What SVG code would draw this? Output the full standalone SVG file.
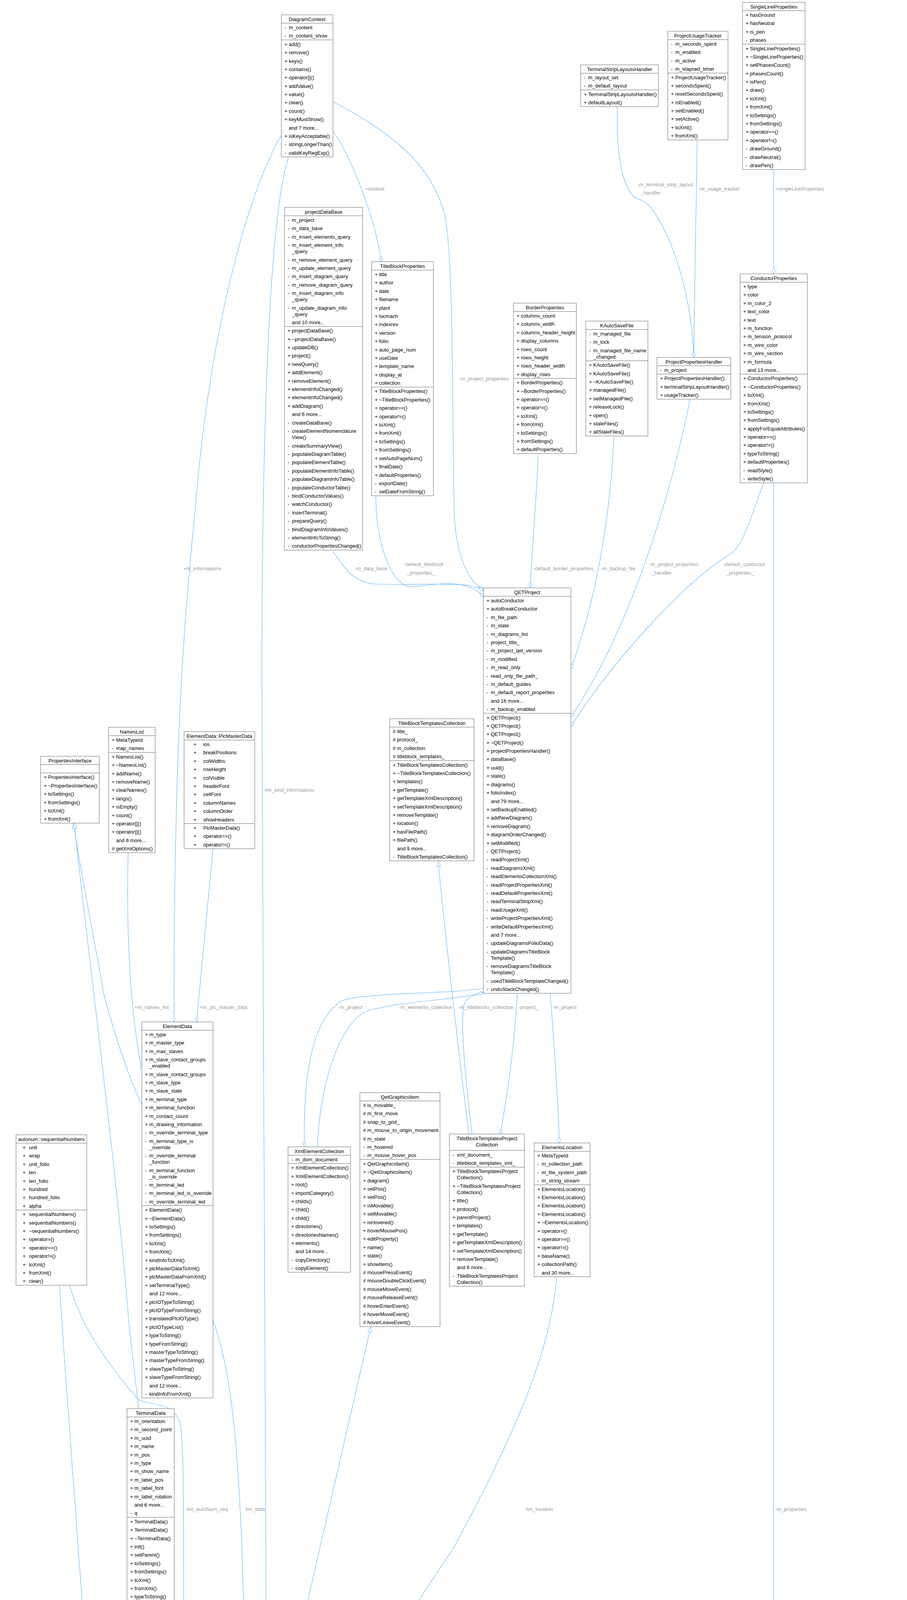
<svg xmlns="http://www.w3.org/2000/svg" width="2321" height="7256" viewBox="0 0 2321 7256">
<style>
.b{fill:#fff;stroke:#666;stroke-width:1}
.g{fill:#999;stroke:#666;stroke-width:1}
.s{fill:none;stroke:#666;stroke-width:1}
text{font-family:"Liberation Sans",Arial,sans-serif;font-size:13px;fill:#000}
.h{text-anchor:middle}
.l{fill:#9a9a9a}
.e{fill:none;stroke:#63b8ff;stroke-width:1.2}
</style>
<defs>
<marker id="d" markerWidth="16" markerHeight="10" refX="15" refY="5" orient="auto" markerUnits="userSpaceOnUse"><path d="M1,5 L8,1 L15,5 L8,9 Z" fill="#fff" stroke="#63b8ff"/></marker>
<marker id="t" markerWidth="16" markerHeight="12" refX="15" refY="6" orient="auto" markerUnits="userSpaceOnUse"><path d="M1,1 L15,6 L1,11 Z" fill="#fff" stroke="#63b8ff"/></marker>
</defs>
<rect width="2321" height="7256" fill="#fff"/>
<g id="connectors">
<path class="e" marker-end="url(#d)" d="M720,347 C650,460 540,800 500,1300 C470,1600 445,1900 445,2616"/>
<path class="e" marker-end="url(#d)" d="M738,404 C700,520 672,900 670,1700 L681,4147"/>
<path class="e" marker-end="url(#d)" d="M852,336 C900,400 960,560 976,670"/>
<path class="e" marker-end="url(#d)" d="M852,260 C1000,340 1110,420 1140,560 C1165,700 1155,1250 1165,1350 C1175,1450 1210,1495 1237,1509"/>
<path class="e" marker-end="url(#d)" d="M851,1411 C880,1450 900,1490 960,1495 C1100,1500 1200,1485 1237,1512"/>
<path class="e" marker-end="url(#d)" d="M962,1271 C960,1380 1000,1510 1060,1502 C1120,1495 1200,1480 1237,1529"/>
<path class="e" marker-end="url(#d)" d="M1377,1164 C1372,1300 1360,1420 1357,1505"/>
<path class="e" marker-end="url(#d)" d="M1571,1119 C1560,1350 1520,1550 1461,1712"/>
<path class="e" marker-end="url(#d)" d="M1766,1022 C1720,1250 1620,1600 1461,1835"/>
<path class="e" marker-end="url(#d)" d="M1954,1236 C1920,1330 1900,1400 1867,1420 C1760,1480 1560,1700 1461,1860"/>
<path class="e" marker-end="url(#d)" d="M1580,273 C1575,420 1600,505 1640,512 C1680,520 1770,700 1775,915"/>
<path class="e" marker-end="url(#d)" d="M1784,358 L1775,915"/>
<path class="e" marker-end="url(#d)" d="M1980,434 L1980,701"/>
<path class="e" marker-end="url(#d)" d="M1980,1236 L1980,5613 C1978,5900 1800,6100 1600,6200 C1200,6420 800,6560 426,6643"/>
<path class="e" marker-end="url(#d)" d="M2098,5750 C2090,5950 2000,6060 1850,6150 C1500,6350 900,6600 426,6654"/>
<path class="e" marker-end="url(#d)" d="M2174,5517 C2200,5530 2205,5570 2200,5620 C2195,5650 2185,5660 2174,5662"/>
<path class="e" marker-end="url(#d)" d="M545,3380 C590,3500 615,3700 624,4147"/>
<path class="e" marker-end="url(#d)" d="M178,3290 C195,3350 230,3440 355,3584 C400,3600 440,3590 460,3640 C470,3680 470,3800 470,4116 C485,4250 540,4360 576,4441"/>
<path class="e" marker-end="url(#d)" d="M152,3290 C200,4000 260,4700 274,5100 C285,5500 305,5800 309,6072"/>
<path class="e" marker-end="url(#t)" d="M363,2828 C320,2740 280,2600 266,2546 C240,2400 200,2200 189,2107"/>
<path class="e" marker-end="url(#t)" d="M355,3606 L331,3400 C300,3000 220,2400 190,2107"/>
<path class="e" marker-end="url(#d)" d="M328,2183 C322,2400 335,2600 363,2740"/>
<path class="e" marker-end="url(#d)" d="M545,2173 L503,2616"/>
<path class="e" marker-end="url(#d)" d="M1237,2530 C1150,2545 950,2540 880,2560 C800,2600 775,2750 779,2936"/>
<path class="e" marker-end="url(#d)" d="M812,2936 C820,2750 880,2600 950,2585 C1050,2560 1180,2560 1237,2540"/>
<path class="e" marker-end="url(#d)" d="M1208,2903 C1190,2750 1175,2600 1190,2565 C1200,2550 1220,2545 1237,2542"/>
<path class="e" marker-end="url(#t)" d="M1200,2903 C1180,2750 1140,2400 1121,2204"/>
<path class="e" marker-end="url(#d)" d="M1324,2543 C1315,2700 1295,2820 1280,2903"/>
<path class="e" marker-end="url(#d)" d="M1408,2543 C1420,2700 1430,2850 1431,2926"/>
<path class="e" marker-end="url(#d)" d="M1425,3268 C1410,3450 1330,3650 1160,3964 C1000,4200 850,4450 746,4540"/>
<path class="e" marker-end="url(#t)" d="M746,4278 L949,3396"/>
<path class="e" marker-end="url(#d)" d="M576,4999 L512,5260"/>
<path class="e" marker-end="url(#d)" d="M393,4120 C400,4500 420,5000 424,5206"/>
<path class="e" marker-end="url(#d)" d="M512,5519 C535,5530 540,5560 538,5590 C535,5630 525,5650 512,5657"/>
<path class="e" marker-end="url(#d)" d="M396,5976 L387,6072"/>
<path class="e" marker-end="url(#t)" d="M107,5345 L107,5077"/>
<path class="e" marker-end="url(#d)" d="M63,5837 C55,5980 70,6150 140,6290 C170,6360 200,6440 226,6470"/>
<path class="e" marker-end="url(#d)" d="M226,6303 C200,6200 160,6050 135,5837"/>
<text class="l" x="469" y="1460">+m_informations</text>
<text class="l" x="677" y="2027">#m_kind_informations</text>
<text class="l" x="934" y="488">+context</text>
<text class="l" x="1175" y="974">-m_project_properties</text>
<text class="l" x="908" y="1460">-m_data_base</text>
<text class="l" x="1034" y="1449">-default_titleblock</text>
<text class="l" x="1041" y="1471">_properties_</text>
<text class="l" x="1365" y="1460">-default_border_properties_</text>
<text class="l" x="1538" y="1460">-m_backup_file</text>
<text class="l" x="1661" y="1449">-m_project_properties</text>
<text class="l" x="1668" y="1471">_handler</text>
<text class="l" x="1851" y="1449">-default_conductor</text>
<text class="l" x="1858" y="1471">_properties_</text>
<text class="l" x="1631" y="477">-m_terminal_strip_layout</text>
<text class="l" x="1640" y="498">_handler</text>
<text class="l" x="1788" y="488">-m_usage_tracker</text>
<text class="l" x="1984" y="488">+singleLineProperties</text>
<text class="l" x="344" y="2583">+m_names_list</text>
<text class="l" x="511" y="2583">+m_plc_master_data</text>
<text class="l" x="866" y="2583">-m_project</text>
<text class="l" x="1021" y="2583">-m_elements_collection</text>
<text class="l" x="1173" y="2583">-m_titleblocks_collection</text>
<text class="l" x="1327" y="2583">-project_</text>
<text class="l" x="1414" y="2583">-m_project</text>
<text class="l" x="477" y="3868">#m_autoNum_seq</text>
<text class="l" x="627" y="3868">#m_data</text>
<text class="l" x="1345" y="3868">#m_location</text>
<text class="l" x="1984" y="3868">-m_properties</text>
<text class="l" x="426" y="4643">-d</text>
<text class="l" x="281" y="5173">-m_autoNum_seq</text>
<text class="l" x="541" y="5173">-parent_element_</text>
<text class="l" x="544" y="5595">-m_previous_terminal</text>
<text class="l" x="397" y="6017">+terminal1</text>
<text class="l" x="397" y="6039">+terminal2</text>
<text class="l" x="76" y="6028">-m_text_item</text>
<text class="l" x="172" y="6028">-parent_conductor_</text>
<text class="l" x="2202" y="5585">-next_segment</text>
<text class="l" x="2202" y="5606">-previous_segment</text>
<text class="l" x="2032" y="6019">-m_moved_segment</text>
<text class="l" x="2032" y="6040">-segments</text>
</g>

<g id="DiagramContext">
<rect class="b" x="720" y="38" width="132" height="363.8"/>
<path class="s" d="M720,59.4 h132 M720,102.2 h132"/>
<text class="h" x="786" y="53.5">DiagramContext</text>
<text y="53.5"><tspan x="728" dy="21.4">-</tspan><tspan x="739">m_content</tspan><tspan x="728" dy="21.4">-</tspan><tspan x="739">m_content_show</tspan><tspan x="728" dy="21.4">+</tspan><tspan x="739">add()</tspan><tspan x="728" dy="21.4">+</tspan><tspan x="739">remove()</tspan><tspan x="728" dy="21.4">+</tspan><tspan x="739">keys()</tspan><tspan x="728" dy="21.4">+</tspan><tspan x="739">contains()</tspan><tspan x="728" dy="21.4">+</tspan><tspan x="739">operator[]()</tspan><tspan x="728" dy="21.4">+</tspan><tspan x="739">addValue()</tspan><tspan x="728" dy="21.4">+</tspan><tspan x="739">value()</tspan><tspan x="728" dy="21.4">+</tspan><tspan x="739">clear()</tspan><tspan x="728" dy="21.4">+</tspan><tspan x="739">count()</tspan><tspan x="728" dy="21.4">+</tspan><tspan x="739">keyMustShow()</tspan><tspan x="739" dy="21.4">and 7 more...</tspan><tspan x="728" dy="21.4">+</tspan><tspan x="739">isKeyAcceptable()</tspan><tspan x="728" dy="21.4">-</tspan><tspan x="739">stringLongerThan()</tspan><tspan x="728" dy="21.4">-</tspan><tspan x="739">validKeyRegExp()</tspan></text>
</g>

<g id="projectDataBase">
<rect class="b" x="728" y="531" width="200" height="877.2"/>
<path class="s" d="M728,552.4 h200 M728,835.8 h200"/>
<text class="h" x="828" y="546.5">projectDataBase</text>
<text y="546.5"><tspan x="736" dy="21.4">-</tspan><tspan x="747">m_project</tspan><tspan x="736" dy="21.4">-</tspan><tspan x="747">m_data_base</tspan><tspan x="736" dy="21.4">-</tspan><tspan x="747">m_insert_elements_query</tspan><tspan x="736" dy="21.4">-</tspan><tspan x="747">m_insert_element_info</tspan><tspan x="747" dy="16">_query</tspan><tspan x="736" dy="21.4">-</tspan><tspan x="747">m_remove_element_query</tspan><tspan x="736" dy="21.4">-</tspan><tspan x="747">m_update_element_query</tspan><tspan x="736" dy="21.4">-</tspan><tspan x="747">m_insert_diagram_query</tspan><tspan x="736" dy="21.4">-</tspan><tspan x="747">m_remove_diagram_query</tspan><tspan x="736" dy="21.4">-</tspan><tspan x="747">m_insert_diagram_info</tspan><tspan x="747" dy="16">_query</tspan><tspan x="736" dy="21.4">-</tspan><tspan x="747">m_update_diagram_info</tspan><tspan x="747" dy="16">_query</tspan><tspan x="747" dy="21.4">and 10 more...</tspan><tspan x="736" dy="21.4">+</tspan><tspan x="747">projectDataBase()</tspan><tspan x="736" dy="21.4">+</tspan><tspan x="747">~projectDataBase()</tspan><tspan x="736" dy="21.4">+</tspan><tspan x="747">updateDB()</tspan><tspan x="736" dy="21.4">+</tspan><tspan x="747">project()</tspan><tspan x="736" dy="21.4">+</tspan><tspan x="747">newQuery()</tspan><tspan x="736" dy="21.4">+</tspan><tspan x="747">addElement()</tspan><tspan x="736" dy="21.4">+</tspan><tspan x="747">removeElement()</tspan><tspan x="736" dy="21.4">+</tspan><tspan x="747">elementInfoChanged()</tspan><tspan x="736" dy="21.4">+</tspan><tspan x="747">elementInfoChanged()</tspan><tspan x="736" dy="21.4">+</tspan><tspan x="747">addDiagram()</tspan><tspan x="747" dy="21.4">and 6 more...</tspan><tspan x="736" dy="21.4">-</tspan><tspan x="747">createDataBase()</tspan><tspan x="736" dy="21.4">-</tspan><tspan x="747">createElementNomenclature</tspan><tspan x="747" dy="16">View()</tspan><tspan x="736" dy="21.4">-</tspan><tspan x="747">createSummaryView()</tspan><tspan x="736" dy="21.4">-</tspan><tspan x="747">populateDiagramTable()</tspan><tspan x="736" dy="21.4">-</tspan><tspan x="747">populateElementTable()</tspan><tspan x="736" dy="21.4">-</tspan><tspan x="747">populateElementInfoTable()</tspan><tspan x="736" dy="21.4">-</tspan><tspan x="747">populateDiagramInfoTable()</tspan><tspan x="736" dy="21.4">-</tspan><tspan x="747">populateConductorTable()</tspan><tspan x="736" dy="21.4">-</tspan><tspan x="747">bindConductorValues()</tspan><tspan x="736" dy="21.4">-</tspan><tspan x="747">watchConductor()</tspan><tspan x="736" dy="21.4">-</tspan><tspan x="747">insertTerminal()</tspan><tspan x="736" dy="21.4">-</tspan><tspan x="747">prepareQuery()</tspan><tspan x="736" dy="21.4">-</tspan><tspan x="747">bindDiagramInfoValues()</tspan><tspan x="736" dy="21.4">-</tspan><tspan x="747">elementInfoToString()</tspan><tspan x="736" dy="21.4">-</tspan><tspan x="747">conductorPropertiesChanged()</tspan></text>
</g>

<g id="TitleBlockProperties">
<rect class="b" x="951" y="670" width="158" height="599.2"/>
<path class="s" d="M951,691.4 h158 M951,991 h158"/>
<text class="h" x="1030" y="685.5">TitleBlockProperties</text>
<text y="685.5"><tspan x="959" dy="21.4">+</tspan><tspan x="970">title</tspan><tspan x="959" dy="21.4">+</tspan><tspan x="970">author</tspan><tspan x="959" dy="21.4">+</tspan><tspan x="970">date</tspan><tspan x="959" dy="21.4">+</tspan><tspan x="970">filename</tspan><tspan x="959" dy="21.4">+</tspan><tspan x="970">plant</tspan><tspan x="959" dy="21.4">+</tspan><tspan x="970">locmach</tspan><tspan x="959" dy="21.4">+</tspan><tspan x="970">indexrev</tspan><tspan x="959" dy="21.4">+</tspan><tspan x="970">version</tspan><tspan x="959" dy="21.4">+</tspan><tspan x="970">folio</tspan><tspan x="959" dy="21.4">+</tspan><tspan x="970">auto_page_num</tspan><tspan x="959" dy="21.4">+</tspan><tspan x="970">useDate</tspan><tspan x="959" dy="21.4">+</tspan><tspan x="970">template_name</tspan><tspan x="959" dy="21.4">+</tspan><tspan x="970">display_at</tspan><tspan x="959" dy="21.4">+</tspan><tspan x="970">collection</tspan><tspan x="959" dy="21.4">+</tspan><tspan x="970">TitleBlockProperties()</tspan><tspan x="959" dy="21.4">+</tspan><tspan x="970">~TitleBlockProperties()</tspan><tspan x="959" dy="21.4">+</tspan><tspan x="970">operator==()</tspan><tspan x="959" dy="21.4">+</tspan><tspan x="970">operator!=()</tspan><tspan x="959" dy="21.4">+</tspan><tspan x="970">toXml()</tspan><tspan x="959" dy="21.4">+</tspan><tspan x="970">fromXml()</tspan><tspan x="959" dy="21.4">+</tspan><tspan x="970">toSettings()</tspan><tspan x="959" dy="21.4">+</tspan><tspan x="970">fromSettings()</tspan><tspan x="959" dy="21.4">+</tspan><tspan x="970">setAutoPageNum()</tspan><tspan x="959" dy="21.4">+</tspan><tspan x="970">finalDate()</tspan><tspan x="959" dy="21.4">+</tspan><tspan x="970">defaultProperties()</tspan><tspan x="959" dy="21.4">-</tspan><tspan x="970">exportDate()</tspan><tspan x="959" dy="21.4">-</tspan><tspan x="970">setDateFromString()</tspan></text>
</g>

<g id="TerminalStripLayoutsHandler">
<rect class="b" x="1486" y="166" width="199" height="107"/>
<path class="s" d="M1486,187.4 h199 M1486,230.2 h199"/>
<text class="h" x="1585.5" y="181.5">TerminalStripLayoutsHandler</text>
<text y="181.5"><tspan x="1494" dy="21.4">-</tspan><tspan x="1505">m_layout_set</tspan><tspan x="1494" dy="21.4">-</tspan><tspan x="1505">m_default_layout</tspan><tspan x="1494" dy="21.4">+</tspan><tspan x="1505">TerminalStripLayoutsHandler()</tspan><tspan x="1494" dy="21.4">+</tspan><tspan x="1505">defaultLayout()</tspan></text>
</g>

<g id="ProjectUsageTracker">
<rect class="b" x="1709" y="80" width="154" height="278.2"/>
<path class="s" d="M1709,101.4 h154 M1709,187 h154"/>
<text class="h" x="1786" y="95.5">ProjectUsageTracker</text>
<text y="95.5"><tspan x="1717" dy="21.4">-</tspan><tspan x="1728">m_seconds_spent</tspan><tspan x="1717" dy="21.4">-</tspan><tspan x="1728">m_enabled</tspan><tspan x="1717" dy="21.4">-</tspan><tspan x="1728">m_active</tspan><tspan x="1717" dy="21.4">-</tspan><tspan x="1728">m_elapsed_timer</tspan><tspan x="1717" dy="21.4">+</tspan><tspan x="1728">ProjectUsageTracker()</tspan><tspan x="1717" dy="21.4">+</tspan><tspan x="1728">secondsSpent()</tspan><tspan x="1717" dy="21.4">+</tspan><tspan x="1728">resetSecondsSpent()</tspan><tspan x="1717" dy="21.4">+</tspan><tspan x="1728">isEnabled()</tspan><tspan x="1717" dy="21.4">+</tspan><tspan x="1728">setEnabled()</tspan><tspan x="1717" dy="21.4">+</tspan><tspan x="1728">setActive()</tspan><tspan x="1717" dy="21.4">+</tspan><tspan x="1728">toXml()</tspan><tspan x="1717" dy="21.4">+</tspan><tspan x="1728">fromXml()</tspan></text>
</g>

<g id="SingleLineProperties">
<rect class="b" x="1900" y="6" width="160" height="428"/>
<path class="s" d="M1900,27.4 h160 M1900,113 h160"/>
<text class="h" x="1980" y="21.5">SingleLineProperties</text>
<text y="21.5"><tspan x="1908" dy="21.4">+</tspan><tspan x="1919">hasGround</tspan><tspan x="1908" dy="21.4">+</tspan><tspan x="1919">hasNeutral</tspan><tspan x="1908" dy="21.4">+</tspan><tspan x="1919">is_pen</tspan><tspan x="1908" dy="21.4">-</tspan><tspan x="1919">phases</tspan><tspan x="1908" dy="21.4">+</tspan><tspan x="1919">SingleLineProperties()</tspan><tspan x="1908" dy="21.4">+</tspan><tspan x="1919">~SingleLineProperties()</tspan><tspan x="1908" dy="21.4">+</tspan><tspan x="1919">setPhasesCount()</tspan><tspan x="1908" dy="21.4">+</tspan><tspan x="1919">phasesCount()</tspan><tspan x="1908" dy="21.4">+</tspan><tspan x="1919">isPen()</tspan><tspan x="1908" dy="21.4">+</tspan><tspan x="1919">draw()</tspan><tspan x="1908" dy="21.4">+</tspan><tspan x="1919">toXml()</tspan><tspan x="1908" dy="21.4">+</tspan><tspan x="1919">fromXml()</tspan><tspan x="1908" dy="21.4">+</tspan><tspan x="1919">toSettings()</tspan><tspan x="1908" dy="21.4">+</tspan><tspan x="1919">fromSettings()</tspan><tspan x="1908" dy="21.4">+</tspan><tspan x="1919">operator==()</tspan><tspan x="1908" dy="21.4">+</tspan><tspan x="1919">operator!=()</tspan><tspan x="1908" dy="21.4">-</tspan><tspan x="1919">drawGround()</tspan><tspan x="1908" dy="21.4">-</tspan><tspan x="1919">drawNeutral()</tspan><tspan x="1908" dy="21.4">-</tspan><tspan x="1919">drawPen()</tspan></text>
</g>

<g id="ConductorProperties">
<rect class="b" x="1894" y="701" width="172" height="535"/>
<path class="s" d="M1894,722.4 h172 M1894,957.8 h172"/>
<text class="h" x="1980" y="716.5">ConductorProperties</text>
<text y="716.5"><tspan x="1902" dy="21.4">+</tspan><tspan x="1913">type</tspan><tspan x="1902" dy="21.4">+</tspan><tspan x="1913">color</tspan><tspan x="1902" dy="21.4">+</tspan><tspan x="1913">m_color_2</tspan><tspan x="1902" dy="21.4">+</tspan><tspan x="1913">text_color</tspan><tspan x="1902" dy="21.4">+</tspan><tspan x="1913">text</tspan><tspan x="1902" dy="21.4">+</tspan><tspan x="1913">m_function</tspan><tspan x="1902" dy="21.4">+</tspan><tspan x="1913">m_tension_protocol</tspan><tspan x="1902" dy="21.4">+</tspan><tspan x="1913">m_wire_color</tspan><tspan x="1902" dy="21.4">+</tspan><tspan x="1913">m_wire_section</tspan><tspan x="1902" dy="21.4">+</tspan><tspan x="1913">m_formula</tspan><tspan x="1913" dy="21.4">and 13 more...</tspan><tspan x="1902" dy="21.4">+</tspan><tspan x="1913">ConductorProperties()</tspan><tspan x="1902" dy="21.4">+</tspan><tspan x="1913">~ConductorProperties()</tspan><tspan x="1902" dy="21.4">+</tspan><tspan x="1913">toXml()</tspan><tspan x="1902" dy="21.4">+</tspan><tspan x="1913">fromXml()</tspan><tspan x="1902" dy="21.4">+</tspan><tspan x="1913">toSettings()</tspan><tspan x="1902" dy="21.4">+</tspan><tspan x="1913">fromSettings()</tspan><tspan x="1902" dy="21.4">+</tspan><tspan x="1913">applyForEqualAttributes()</tspan><tspan x="1902" dy="21.4">+</tspan><tspan x="1913">operator==()</tspan><tspan x="1902" dy="21.4">+</tspan><tspan x="1913">operator!=()</tspan><tspan x="1902" dy="21.4">+</tspan><tspan x="1913">typeToString()</tspan><tspan x="1902" dy="21.4">+</tspan><tspan x="1913">defaultProperties()</tspan><tspan x="1902" dy="21.4">-</tspan><tspan x="1913">readStyle()</tspan><tspan x="1902" dy="21.4">-</tspan><tspan x="1913">writeStyle()</tspan></text>
</g>

<g id="ProjectPropertiesHandler">
<rect class="b" x="1681" y="915" width="189" height="107"/>
<path class="s" d="M1681,936.4 h189 M1681,957.8 h189"/>
<text class="h" x="1775.5" y="930.5">ProjectPropertiesHandler</text>
<text y="930.5"><tspan x="1689" dy="21.4">-</tspan><tspan x="1700">m_project</tspan><tspan x="1689" dy="21.4">+</tspan><tspan x="1700">ProjectPropertiesHandler()</tspan><tspan x="1689" dy="21.4">+</tspan><tspan x="1700">terminalStripLayoutHandler()</tspan><tspan x="1689" dy="21.4">+</tspan><tspan x="1700">usageTracker()</tspan></text>
</g>

<g id="BorderProperties">
<rect class="b" x="1314" y="776" width="161" height="385.2"/>
<path class="s" d="M1314,797.4 h161 M1314,968.6 h161"/>
<text class="h" x="1394.5" y="791.5">BorderProperties</text>
<text y="791.5"><tspan x="1322" dy="21.4">+</tspan><tspan x="1333">columns_count</tspan><tspan x="1322" dy="21.4">+</tspan><tspan x="1333">columns_width</tspan><tspan x="1322" dy="21.4">+</tspan><tspan x="1333">columns_header_height</tspan><tspan x="1322" dy="21.4">+</tspan><tspan x="1333">display_columns</tspan><tspan x="1322" dy="21.4">+</tspan><tspan x="1333">rows_count</tspan><tspan x="1322" dy="21.4">+</tspan><tspan x="1333">rows_height</tspan><tspan x="1322" dy="21.4">+</tspan><tspan x="1333">rows_header_width</tspan><tspan x="1322" dy="21.4">+</tspan><tspan x="1333">display_rows</tspan><tspan x="1322" dy="21.4">+</tspan><tspan x="1333">BorderProperties()</tspan><tspan x="1322" dy="21.4">+</tspan><tspan x="1333">~BorderProperties()</tspan><tspan x="1322" dy="21.4">+</tspan><tspan x="1333">operator==()</tspan><tspan x="1322" dy="21.4">+</tspan><tspan x="1333">operator!=()</tspan><tspan x="1322" dy="21.4">+</tspan><tspan x="1333">toXml()</tspan><tspan x="1322" dy="21.4">+</tspan><tspan x="1333">fromXml()</tspan><tspan x="1322" dy="21.4">+</tspan><tspan x="1333">toSettings()</tspan><tspan x="1322" dy="21.4">+</tspan><tspan x="1333">fromSettings()</tspan><tspan x="1322" dy="21.4">+</tspan><tspan x="1333">defaultProperties()</tspan></text>
</g>

<g id="KAutoSaveFile">
<rect class="b" x="1499" y="822" width="159" height="294.2"/>
<path class="s" d="M1499,843.4 h159 M1499,923.6 h159"/>
<text class="h" x="1578.5" y="837.5">KAutoSaveFile</text>
<text y="837.5"><tspan x="1507" dy="21.4">-</tspan><tspan x="1518">m_managed_file</tspan><tspan x="1507" dy="21.4">-</tspan><tspan x="1518">m_lock</tspan><tspan x="1507" dy="21.4">-</tspan><tspan x="1518">m_managed_file_name</tspan><tspan x="1518" dy="16">_changed</tspan><tspan x="1507" dy="21.4">+</tspan><tspan x="1518">KAutoSaveFile()</tspan><tspan x="1507" dy="21.4">+</tspan><tspan x="1518">KAutoSaveFile()</tspan><tspan x="1507" dy="21.4">+</tspan><tspan x="1518">~KAutoSaveFile()</tspan><tspan x="1507" dy="21.4">+</tspan><tspan x="1518">managedFile()</tspan><tspan x="1507" dy="21.4">+</tspan><tspan x="1518">setManagedFile()</tspan><tspan x="1507" dy="21.4">+</tspan><tspan x="1518">releaseLock()</tspan><tspan x="1507" dy="21.4">+</tspan><tspan x="1518">open()</tspan><tspan x="1507" dy="21.4">+</tspan><tspan x="1518">staleFiles()</tspan><tspan x="1507" dy="21.4">+</tspan><tspan x="1518">allStaleFiles()</tspan></text>
</g>

<g id="QETProject">
<rect class="b" x="1237" y="1505" width="224" height="1037.8"/>
<path class="s" d="M1237,1526.4 h224 M1237,1826 h224"/>
<text class="h" x="1349" y="1520.5">QETProject</text>
<text y="1520.5"><tspan x="1245" dy="21.4">+</tspan><tspan x="1256">autoConductor</tspan><tspan x="1245" dy="21.4">+</tspan><tspan x="1256">autoBreakConductor</tspan><tspan x="1245" dy="21.4">-</tspan><tspan x="1256">m_file_path</tspan><tspan x="1245" dy="21.4">-</tspan><tspan x="1256">m_state</tspan><tspan x="1245" dy="21.4">-</tspan><tspan x="1256">m_diagrams_list</tspan><tspan x="1245" dy="21.4">-</tspan><tspan x="1256">project_title_</tspan><tspan x="1245" dy="21.4">-</tspan><tspan x="1256">m_project_qet_version</tspan><tspan x="1245" dy="21.4">-</tspan><tspan x="1256">m_modified</tspan><tspan x="1245" dy="21.4">-</tspan><tspan x="1256">m_read_only</tspan><tspan x="1245" dy="21.4">-</tspan><tspan x="1256">read_only_file_path_</tspan><tspan x="1245" dy="21.4">-</tspan><tspan x="1256">m_default_guides</tspan><tspan x="1245" dy="21.4">-</tspan><tspan x="1256">m_default_report_properties</tspan><tspan x="1256" dy="21.4">and 16 more...</tspan><tspan x="1245" dy="21.4">-</tspan><tspan x="1256">m_backup_enabled</tspan><tspan x="1245" dy="21.4">+</tspan><tspan x="1256">QETProject()</tspan><tspan x="1245" dy="21.4">+</tspan><tspan x="1256">QETProject()</tspan><tspan x="1245" dy="21.4">+</tspan><tspan x="1256">QETProject()</tspan><tspan x="1245" dy="21.4">+</tspan><tspan x="1256">~QETProject()</tspan><tspan x="1245" dy="21.4">+</tspan><tspan x="1256">projectPropertiesHandler()</tspan><tspan x="1245" dy="21.4">+</tspan><tspan x="1256">dataBase()</tspan><tspan x="1245" dy="21.4">+</tspan><tspan x="1256">uuid()</tspan><tspan x="1245" dy="21.4">+</tspan><tspan x="1256">state()</tspan><tspan x="1245" dy="21.4">+</tspan><tspan x="1256">diagrams()</tspan><tspan x="1245" dy="21.4">+</tspan><tspan x="1256">folioIndex()</tspan><tspan x="1256" dy="21.4">and 79 more...</tspan><tspan x="1245" dy="21.4">+</tspan><tspan x="1256">setBackupEnabled()</tspan><tspan x="1245" dy="21.4">+</tspan><tspan x="1256">addNewDiagram()</tspan><tspan x="1245" dy="21.4">+</tspan><tspan x="1256">removeDiagram()</tspan><tspan x="1245" dy="21.4">+</tspan><tspan x="1256">diagramOrderChanged()</tspan><tspan x="1245" dy="21.4">+</tspan><tspan x="1256">setModified()</tspan><tspan x="1245" dy="21.4">-</tspan><tspan x="1256">QETProject()</tspan><tspan x="1245" dy="21.4">-</tspan><tspan x="1256">readProjectXml()</tspan><tspan x="1245" dy="21.4">-</tspan><tspan x="1256">readDiagramsXml()</tspan><tspan x="1245" dy="21.4">-</tspan><tspan x="1256">readElementsCollectionXml()</tspan><tspan x="1245" dy="21.4">-</tspan><tspan x="1256">readProjectPropertiesXml()</tspan><tspan x="1245" dy="21.4">-</tspan><tspan x="1256">readDefaultPropertiesXml()</tspan><tspan x="1245" dy="21.4">-</tspan><tspan x="1256">readTerminalStripXml()</tspan><tspan x="1245" dy="21.4">-</tspan><tspan x="1256">readUsageXml()</tspan><tspan x="1245" dy="21.4">-</tspan><tspan x="1256">writeProjectPropertiesXml()</tspan><tspan x="1245" dy="21.4">-</tspan><tspan x="1256">writeDefaultPropertiesXml()</tspan><tspan x="1256" dy="21.4">and 7 more...</tspan><tspan x="1245" dy="21.4">-</tspan><tspan x="1256">updateDiagramsFolioData()</tspan><tspan x="1245" dy="21.4">-</tspan><tspan x="1256">updateDiagramsTitleBlock</tspan><tspan x="1256" dy="16">Template()</tspan><tspan x="1245" dy="21.4">-</tspan><tspan x="1256">removeDiagramsTitleBlock</tspan><tspan x="1256" dy="16">Template()</tspan><tspan x="1245" dy="21.4">-</tspan><tspan x="1256">usedTitleBlockTemplateChanged()</tspan><tspan x="1245" dy="21.4">-</tspan><tspan x="1256">undoStackChanged()</tspan></text>
</g>

<g id="PropertiesInterface">
<rect class="b" x="104" y="1936" width="150" height="171.2"/>
<path class="s" d="M104,1957.4 h150 M104,1978.8 h150"/>
<text class="h" x="179" y="1951.5">PropertiesInterface</text>
<text y="1972.9"><tspan x="112" dy="21.4">+</tspan><tspan x="123">PropertiesInterface()</tspan><tspan x="112" dy="21.4">+</tspan><tspan x="123">~PropertiesInterface()</tspan><tspan x="112" dy="21.4">+</tspan><tspan x="123">toSettings()</tspan><tspan x="112" dy="21.4">+</tspan><tspan x="123">fromSettings()</tspan><tspan x="112" dy="21.4">+</tspan><tspan x="123">toXml()</tspan><tspan x="112" dy="21.4">+</tspan><tspan x="123">fromXml()</tspan></text>
</g>

<g id="NamesList">
<rect class="b" x="278" y="1862" width="119" height="321"/>
<path class="s" d="M278,1883.4 h119 M278,1926.2 h119"/>
<text class="h" x="337.5" y="1877.5">NamesList</text>
<text y="1877.5"><tspan x="286" dy="21.4">+</tspan><tspan x="297">MetaTypeId</tspan><tspan x="286" dy="21.4">-</tspan><tspan x="297">map_names</tspan><tspan x="286" dy="21.4">+</tspan><tspan x="297">NamesList()</tspan><tspan x="286" dy="21.4">+</tspan><tspan x="297">~NamesList()</tspan><tspan x="286" dy="21.4">+</tspan><tspan x="297">addName()</tspan><tspan x="286" dy="21.4">+</tspan><tspan x="297">removeName()</tspan><tspan x="286" dy="21.4">+</tspan><tspan x="297">clearNames()</tspan><tspan x="286" dy="21.4">+</tspan><tspan x="297">langs()</tspan><tspan x="286" dy="21.4">+</tspan><tspan x="297">isEmpty()</tspan><tspan x="286" dy="21.4">+</tspan><tspan x="297">count()</tspan><tspan x="286" dy="21.4">+</tspan><tspan x="297">operator[]()</tspan><tspan x="286" dy="21.4">+</tspan><tspan x="297">operator[]()</tspan><tspan x="297" dy="21.4">and 6 more...</tspan><tspan x="286" dy="21.4">#</tspan><tspan x="297">getXmlOptions()</tspan></text>
</g>

<g id="PlcMasterData">
<rect class="b" x="471" y="1873" width="181" height="299.6"/>
<path class="s" d="M471,1894.4 h181 M471,2108.4 h181"/>
<text class="h" x="561.5" y="1888.5">ElementData::PlcMasterData</text>
<text y="1888.5"><tspan x="495" dy="21.4">+</tspan><tspan x="520">ios</tspan><tspan x="495" dy="21.4">+</tspan><tspan x="520">breakPositions</tspan><tspan x="495" dy="21.4">+</tspan><tspan x="520">colWidths</tspan><tspan x="495" dy="21.4">+</tspan><tspan x="520">rowHeight</tspan><tspan x="495" dy="21.4">+</tspan><tspan x="520">colVisible</tspan><tspan x="495" dy="21.4">+</tspan><tspan x="520">headerFont</tspan><tspan x="495" dy="21.4">+</tspan><tspan x="520">cellFont</tspan><tspan x="495" dy="21.4">+</tspan><tspan x="520">columnNames</tspan><tspan x="495" dy="21.4">+</tspan><tspan x="520">columnOrder</tspan><tspan x="495" dy="21.4">+</tspan><tspan x="520">showHeaders</tspan><tspan x="495" dy="21.4">+</tspan><tspan x="520">PlcMasterData()</tspan><tspan x="495" dy="21.4">+</tspan><tspan x="520">operator==()</tspan><tspan x="495" dy="21.4">+</tspan><tspan x="520">operator!=()</tspan></text>
</g>

<g id="TitleBlockTemplatesCollection">
<rect class="b" x="997" y="1840" width="216" height="363.8"/>
<path class="s" d="M997,1861.4 h216 M997,1947 h216"/>
<text class="h" x="1105" y="1855.5">TitleBlockTemplatesCollection</text>
<text y="1855.5"><tspan x="1005" dy="21.4">#</tspan><tspan x="1016">title_</tspan><tspan x="1005" dy="21.4">#</tspan><tspan x="1016">protocol_</tspan><tspan x="1005" dy="21.4">#</tspan><tspan x="1016">m_collection</tspan><tspan x="1005" dy="21.4">#</tspan><tspan x="1016">titleblock_templates_</tspan><tspan x="1005" dy="21.4">+</tspan><tspan x="1016">TitleBlockTemplatesCollection()</tspan><tspan x="1005" dy="21.4">+</tspan><tspan x="1016">~TitleBlockTemplatesCollection()</tspan><tspan x="1005" dy="21.4">+</tspan><tspan x="1016">templates()</tspan><tspan x="1005" dy="21.4">+</tspan><tspan x="1016">getTemplate()</tspan><tspan x="1005" dy="21.4">+</tspan><tspan x="1016">getTemplateXmlDescription()</tspan><tspan x="1005" dy="21.4">+</tspan><tspan x="1016">setTemplateXmlDescription()</tspan><tspan x="1005" dy="21.4">+</tspan><tspan x="1016">removeTemplate()</tspan><tspan x="1005" dy="21.4">+</tspan><tspan x="1016">location()</tspan><tspan x="1005" dy="21.4">+</tspan><tspan x="1016">hasFilePath()</tspan><tspan x="1005" dy="21.4">+</tspan><tspan x="1016">filePath()</tspan><tspan x="1016" dy="21.4">and 9 more...</tspan><tspan x="1005" dy="21.4">-</tspan><tspan x="1016">TitleBlockTemplatesCollection()</tspan></text>
</g>

<g id="ElementData">
<rect class="b" x="363" y="2616" width="182" height="962.8"/>
<path class="s" d="M363,2637.4 h182 M363,3086.6 h182"/>
<text class="h" x="454" y="2631.5">ElementData</text>
<text y="2631.5"><tspan x="371" dy="21.4">+</tspan><tspan x="382">m_type</tspan><tspan x="371" dy="21.4">+</tspan><tspan x="382">m_master_type</tspan><tspan x="371" dy="21.4">+</tspan><tspan x="382">m_max_slaves</tspan><tspan x="371" dy="21.4">+</tspan><tspan x="382">m_slave_contact_groups</tspan><tspan x="382" dy="16">_enabled</tspan><tspan x="371" dy="21.4">+</tspan><tspan x="382">m_slave_contact_groups</tspan><tspan x="371" dy="21.4">+</tspan><tspan x="382">m_slave_type</tspan><tspan x="371" dy="21.4">+</tspan><tspan x="382">m_slave_state</tspan><tspan x="371" dy="21.4">+</tspan><tspan x="382">m_terminal_type</tspan><tspan x="371" dy="21.4">+</tspan><tspan x="382">m_terminal_function</tspan><tspan x="371" dy="21.4">+</tspan><tspan x="382">m_contact_count</tspan><tspan x="371" dy="21.4">+</tspan><tspan x="382">m_drawing_information</tspan><tspan x="371" dy="21.4">-</tspan><tspan x="382">m_override_terminal_type</tspan><tspan x="371" dy="21.4">-</tspan><tspan x="382">m_terminal_type_is</tspan><tspan x="382" dy="16">_override</tspan><tspan x="371" dy="21.4">-</tspan><tspan x="382">m_override_terminal</tspan><tspan x="382" dy="16">_function</tspan><tspan x="371" dy="21.4">-</tspan><tspan x="382">m_terminal_function</tspan><tspan x="382" dy="16">_is_override</tspan><tspan x="371" dy="21.4">-</tspan><tspan x="382">m_terminal_led</tspan><tspan x="371" dy="21.4">-</tspan><tspan x="382">m_terminal_led_is_override</tspan><tspan x="371" dy="21.4">-</tspan><tspan x="382">m_override_terminal_led</tspan><tspan x="371" dy="21.4">+</tspan><tspan x="382">ElementData()</tspan><tspan x="371" dy="21.4">+</tspan><tspan x="382">~ElementData()</tspan><tspan x="371" dy="21.4">+</tspan><tspan x="382">toSettings()</tspan><tspan x="371" dy="21.4">+</tspan><tspan x="382">fromSettings()</tspan><tspan x="371" dy="21.4">+</tspan><tspan x="382">toXml()</tspan><tspan x="371" dy="21.4">+</tspan><tspan x="382">fromXml()</tspan><tspan x="371" dy="21.4">+</tspan><tspan x="382">kindInfoToXml()</tspan><tspan x="371" dy="21.4">+</tspan><tspan x="382">plcMasterDataToXml()</tspan><tspan x="371" dy="21.4">+</tspan><tspan x="382">plcMasterDataFromXml()</tspan><tspan x="371" dy="21.4">+</tspan><tspan x="382">setTerminalType()</tspan><tspan x="382" dy="21.4">and 12 more...</tspan><tspan x="371" dy="21.4">+</tspan><tspan x="382">plcIOTypeToString()</tspan><tspan x="371" dy="21.4">+</tspan><tspan x="382">plcIOTypeFromString()</tspan><tspan x="371" dy="21.4">+</tspan><tspan x="382">translatedPlcIOType()</tspan><tspan x="371" dy="21.4">+</tspan><tspan x="382">plcIOTypeList()</tspan><tspan x="371" dy="21.4">+</tspan><tspan x="382">typeToString()</tspan><tspan x="371" dy="21.4">+</tspan><tspan x="382">typeFromString()</tspan><tspan x="371" dy="21.4">+</tspan><tspan x="382">masterTypeToString()</tspan><tspan x="371" dy="21.4">+</tspan><tspan x="382">masterTypeFromString()</tspan><tspan x="371" dy="21.4">+</tspan><tspan x="382">slaveTypeToString()</tspan><tspan x="371" dy="21.4">+</tspan><tspan x="382">slaveTypeFromString()</tspan><tspan x="382" dy="21.4">and 12 more...</tspan><tspan x="371" dy="21.4">-</tspan><tspan x="382">kindInfoFromXml()</tspan></text>
</g>

<g id="sequentialNumbers">
<rect class="b" x="41" y="2905" width="181" height="385.2"/>
<path class="s" d="M41,2926.4 h181 M41,3097.6 h181"/>
<text class="h" x="131.5" y="2920.5">autonum::sequentialNumbers</text>
<text y="2920.5"><tspan x="58" dy="21.4">+</tspan><tspan x="74">unit</tspan><tspan x="58" dy="21.4">+</tspan><tspan x="74">wrap</tspan><tspan x="58" dy="21.4">+</tspan><tspan x="74">unit_folio</tspan><tspan x="58" dy="21.4">+</tspan><tspan x="74">ten</tspan><tspan x="58" dy="21.4">+</tspan><tspan x="74">ten_folio</tspan><tspan x="58" dy="21.4">+</tspan><tspan x="74">hundred</tspan><tspan x="58" dy="21.4">+</tspan><tspan x="74">hundred_folio</tspan><tspan x="58" dy="21.4">+</tspan><tspan x="74">alpha</tspan><tspan x="58" dy="21.4">+</tspan><tspan x="74">sequentialNumbers()</tspan><tspan x="58" dy="21.4">+</tspan><tspan x="74">sequentialNumbers()</tspan><tspan x="58" dy="21.4">+</tspan><tspan x="74">~sequentialNumbers()</tspan><tspan x="58" dy="21.4">+</tspan><tspan x="74">operator=()</tspan><tspan x="58" dy="21.4">+</tspan><tspan x="74">operator==()</tspan><tspan x="58" dy="21.4">+</tspan><tspan x="74">operator!=()</tspan><tspan x="58" dy="21.4">+</tspan><tspan x="74">toXml()</tspan><tspan x="58" dy="21.4">+</tspan><tspan x="74">fromXml()</tspan><tspan x="58" dy="21.4">+</tspan><tspan x="74">clear()</tspan></text>
</g>

<g id="XmlElementCollection">
<rect class="b" x="737" y="2936" width="160" height="321"/>
<path class="s" d="M737,2957.4 h160 M737,2978.8 h160"/>
<text class="h" x="817" y="2951.5">XmlElementCollection</text>
<text y="2951.5"><tspan x="745" dy="21.4">-</tspan><tspan x="756">m_dom_document</tspan><tspan x="745" dy="21.4">+</tspan><tspan x="756">XmlElementCollection()</tspan><tspan x="745" dy="21.4">+</tspan><tspan x="756">XmlElementCollection()</tspan><tspan x="745" dy="21.4">+</tspan><tspan x="756">root()</tspan><tspan x="745" dy="21.4">+</tspan><tspan x="756">importCategory()</tspan><tspan x="745" dy="21.4">+</tspan><tspan x="756">childs()</tspan><tspan x="745" dy="21.4">+</tspan><tspan x="756">child()</tspan><tspan x="745" dy="21.4">+</tspan><tspan x="756">child()</tspan><tspan x="745" dy="21.4">+</tspan><tspan x="756">directories()</tspan><tspan x="745" dy="21.4">+</tspan><tspan x="756">directoriesNames()</tspan><tspan x="745" dy="21.4">+</tspan><tspan x="756">elements()</tspan><tspan x="756" dy="21.4">and 14 more...</tspan><tspan x="745" dy="21.4">-</tspan><tspan x="756">copyDirectory()</tspan><tspan x="745" dy="21.4">-</tspan><tspan x="756">copyElement()</tspan></text>
</g>

<g id="QetGraphicsItem">
<rect class="b" x="921" y="2797" width="205" height="599.2"/>
<path class="s" d="M921,2818.4 h205 M921,2968.2 h205"/>
<text class="h" x="1023.5" y="2812.5">QetGraphicsItem</text>
<text y="2812.5"><tspan x="929" dy="21.4">#</tspan><tspan x="940">is_movable_</tspan><tspan x="929" dy="21.4">#</tspan><tspan x="940">m_first_move</tspan><tspan x="929" dy="21.4">#</tspan><tspan x="940">snap_to_grid_</tspan><tspan x="929" dy="21.4">#</tspan><tspan x="940">m_mouse_to_origin_movement</tspan><tspan x="929" dy="21.4">#</tspan><tspan x="940">m_state</tspan><tspan x="929" dy="21.4">-</tspan><tspan x="940">m_hovered</tspan><tspan x="929" dy="21.4">-</tspan><tspan x="940">m_mouse_hover_pos</tspan><tspan x="929" dy="21.4">+</tspan><tspan x="940">QetGraphicsItem()</tspan><tspan x="929" dy="21.4">+</tspan><tspan x="940">~QetGraphicsItem()</tspan><tspan x="929" dy="21.4">+</tspan><tspan x="940">diagram()</tspan><tspan x="929" dy="21.4">+</tspan><tspan x="940">setPos()</tspan><tspan x="929" dy="21.4">+</tspan><tspan x="940">setPos()</tspan><tspan x="929" dy="21.4">+</tspan><tspan x="940">isMovable()</tspan><tspan x="929" dy="21.4">+</tspan><tspan x="940">setMovable()</tspan><tspan x="929" dy="21.4">+</tspan><tspan x="940">isHovered()</tspan><tspan x="929" dy="21.4">+</tspan><tspan x="940">hoverMousePos()</tspan><tspan x="929" dy="21.4">+</tspan><tspan x="940">editProperty()</tspan><tspan x="929" dy="21.4">+</tspan><tspan x="940">name()</tspan><tspan x="929" dy="21.4">+</tspan><tspan x="940">state()</tspan><tspan x="929" dy="21.4">+</tspan><tspan x="940">showItem()</tspan><tspan x="929" dy="21.4">#</tspan><tspan x="940">mousePressEvent()</tspan><tspan x="929" dy="21.4">#</tspan><tspan x="940">mouseDoubleClickEvent()</tspan><tspan x="929" dy="21.4">#</tspan><tspan x="940">mouseMoveEvent()</tspan><tspan x="929" dy="21.4">#</tspan><tspan x="940">mouseReleaseEvent()</tspan><tspan x="929" dy="21.4">#</tspan><tspan x="940">hoverEnterEvent()</tspan><tspan x="929" dy="21.4">#</tspan><tspan x="940">hoverMoveEvent()</tspan><tspan x="929" dy="21.4">#</tspan><tspan x="940">hoverLeaveEvent()</tspan></text>
</g>

<g id="TitleBlockTemplatesProjectCollection">
<rect class="b" x="1150" y="2903" width="192" height="389.6"/>
<path class="s" d="M1150,2945 h192 M1150,2987.8 h192"/>
<text class="h" x="1246" y="2918.5">TitleBlockTemplatesProject</text>
<text class="h" x="1246" y="2934.5">Collection</text>
<text y="2939.1"><tspan x="1158" dy="21.4">-</tspan><tspan x="1169">xml_document_</tspan><tspan x="1158" dy="21.4">-</tspan><tspan x="1169">titleblock_templates_xml_</tspan><tspan x="1158" dy="21.4">+</tspan><tspan x="1169">TitleBlockTemplatesProject</tspan><tspan x="1169" dy="16">Collection()</tspan><tspan x="1158" dy="21.4">+</tspan><tspan x="1169">~TitleBlockTemplatesProject</tspan><tspan x="1169" dy="16">Collection()</tspan><tspan x="1158" dy="21.4">+</tspan><tspan x="1169">title()</tspan><tspan x="1158" dy="21.4">+</tspan><tspan x="1169">protocol()</tspan><tspan x="1158" dy="21.4">+</tspan><tspan x="1169">parentProject()</tspan><tspan x="1158" dy="21.4">+</tspan><tspan x="1169">templates()</tspan><tspan x="1158" dy="21.4">+</tspan><tspan x="1169">getTemplate()</tspan><tspan x="1158" dy="21.4">+</tspan><tspan x="1169">getTemplateXmlDescription()</tspan><tspan x="1158" dy="21.4">+</tspan><tspan x="1169">setTemplateXmlDescription()</tspan><tspan x="1158" dy="21.4">+</tspan><tspan x="1169">removeTemplate()</tspan><tspan x="1169" dy="21.4">and 6 more...</tspan><tspan x="1158" dy="21.4">-</tspan><tspan x="1169">TitleBlockTemplatesProject</tspan><tspan x="1169" dy="16">Collection()</tspan></text>
</g>

<g id="ElementsLocation">
<rect class="b" x="1367" y="2926" width="143" height="342.4"/>
<path class="s" d="M1367,2947.4 h143 M1367,3033 h143"/>
<text class="h" x="1438.5" y="2941.5">ElementsLocation</text>
<text y="2941.5"><tspan x="1375" dy="21.4">+</tspan><tspan x="1386">MetaTypeId</tspan><tspan x="1375" dy="21.4">-</tspan><tspan x="1386">m_collection_path</tspan><tspan x="1375" dy="21.4">-</tspan><tspan x="1386">m_file_system_path</tspan><tspan x="1375" dy="21.4">-</tspan><tspan x="1386">m_string_stream</tspan><tspan x="1375" dy="21.4">+</tspan><tspan x="1386">ElementsLocation()</tspan><tspan x="1375" dy="21.4">+</tspan><tspan x="1386">ElementsLocation()</tspan><tspan x="1375" dy="21.4">+</tspan><tspan x="1386">ElementsLocation()</tspan><tspan x="1375" dy="21.4">+</tspan><tspan x="1386">ElementsLocation()</tspan><tspan x="1375" dy="21.4">+</tspan><tspan x="1386">~ElementsLocation()</tspan><tspan x="1375" dy="21.4">+</tspan><tspan x="1386">operator=()</tspan><tspan x="1375" dy="21.4">+</tspan><tspan x="1386">operator==()</tspan><tspan x="1375" dy="21.4">+</tspan><tspan x="1386">operator!=()</tspan><tspan x="1375" dy="21.4">+</tspan><tspan x="1386">baseName()</tspan><tspan x="1375" dy="21.4">+</tspan><tspan x="1386">collectionPath()</tspan><tspan x="1386" dy="21.4">and 30 more...</tspan></text>
</g>

<g id="TerminalData">
<rect class="b" x="325" y="3606" width="121" height="513.6"/>
<path class="s" d="M325,3627.4 h121 M325,3884.2 h121"/>
<text class="h" x="385.5" y="3621.5">TerminalData</text>
<text y="3621.5"><tspan x="333" dy="21.4">+</tspan><tspan x="344">m_orientation</tspan><tspan x="333" dy="21.4">+</tspan><tspan x="344">m_second_point</tspan><tspan x="333" dy="21.4">+</tspan><tspan x="344">m_uuid</tspan><tspan x="333" dy="21.4">+</tspan><tspan x="344">m_name</tspan><tspan x="333" dy="21.4">+</tspan><tspan x="344">m_pos</tspan><tspan x="333" dy="21.4">+</tspan><tspan x="344">m_type</tspan><tspan x="333" dy="21.4">+</tspan><tspan x="344">m_show_name</tspan><tspan x="333" dy="21.4">+</tspan><tspan x="344">m_label_pos</tspan><tspan x="333" dy="21.4">+</tspan><tspan x="344">m_label_font</tspan><tspan x="333" dy="21.4">+</tspan><tspan x="344">m_label_rotation</tspan><tspan x="344" dy="21.4">and 6 more...</tspan><tspan x="333" dy="21.4">-</tspan><tspan x="344">q</tspan><tspan x="333" dy="21.4">+</tspan><tspan x="344">TerminalData()</tspan><tspan x="333" dy="21.4">+</tspan><tspan x="344">TerminalData()</tspan><tspan x="333" dy="21.4">+</tspan><tspan x="344">~TerminalData()</tspan><tspan x="333" dy="21.4">+</tspan><tspan x="344">init()</tspan><tspan x="333" dy="21.4">+</tspan><tspan x="344">setParent()</tspan><tspan x="333" dy="21.4">+</tspan><tspan x="344">toSettings()</tspan><tspan x="333" dy="21.4">+</tspan><tspan x="344">fromSettings()</tspan><tspan x="333" dy="21.4">+</tspan><tspan x="344">toXml()</tspan><tspan x="333" dy="21.4">+</tspan><tspan x="344">fromXml()</tspan><tspan x="333" dy="21.4">+</tspan><tspan x="344">typeToString()</tspan><tspan x="333" dy="21.4">+</tspan><tspan x="344">typeFromString()</tspan></text>
</g>

<g id="Element">
<rect class="b" x="576" y="4147" width="170" height="984.4"/>
<path class="s" d="M576,4168.4 h170 M576,4553.6 h170"/>
<text class="h" x="661" y="4162.5">Element</text>
<text y="4162.5"><tspan x="584" dy="21.4">#</tspan><tspan x="595">connected_elements</tspan><tspan x="584" dy="21.4">#</tspan><tspan x="595">tmp_uuids_link</tspan><tspan x="584" dy="21.4">#</tspan><tspan x="595">m_group_index_map</tspan><tspan x="584" dy="21.4">#</tspan><tspan x="595">m_uuid</tspan><tspan x="584" dy="21.4">#</tspan><tspan x="595">m_link_type</tspan><tspan x="584" dy="21.4">#</tspan><tspan x="595">m_freeze_label</tspan><tspan x="584" dy="21.4">#</tspan><tspan x="595">m_F_str</tspan><tspan x="584" dy="21.4">#</tspan><tspan x="595">m_terminals</tspan><tspan x="584" dy="21.4">#</tspan><tspan x="595">m_picture</tspan><tspan x="584" dy="21.4">#</tspan><tspan x="595">m_low_zoom_picture</tspan><tspan x="584" dy="21.4">#</tspan><tspan x="595">m_plc_table_positions</tspan><tspan x="584" dy="21.4">-</tspan><tspan x="595">m_must_highlight</tspan><tspan x="584" dy="21.4">-</tspan><tspan x="595">dimensions</tspan><tspan x="584" dy="21.4">-</tspan><tspan x="595">hotspot_coord</tspan><tspan x="584" dy="21.4">-</tspan><tspan x="595">m_mouse_over</tspan><tspan x="584" dy="21.4">-</tspan><tspan x="595">m_prefix</tspan><tspan x="584" dy="21.4">-</tspan><tspan x="595">m_dynamic_text_list</tspan><tspan x="584" dy="21.4">-</tspan><tspan x="595">m_texts_group</tspan><tspan x="584" dy="21.4">+</tspan><tspan x="595">Element()</tspan><tspan x="584" dy="21.4">+</tspan><tspan x="595">~Element()</tspan><tspan x="584" dy="21.4">+</tspan><tspan x="595">type()</tspan><tspan x="584" dy="21.4">+</tspan><tspan x="595">terminals()</tspan><tspan x="584" dy="21.4">+</tspan><tspan x="595">conductors()</tspan><tspan x="584" dy="21.4">+</tspan><tspan x="595">AlignedFreeTerminals()</tspan><tspan x="584" dy="21.4">+</tspan><tspan x="595">elementInformations()</tspan><tspan x="584" dy="21.4">+</tspan><tspan x="595">setElementInformations()</tspan><tspan x="584" dy="21.4">+</tspan><tspan x="595">elementData()</tspan><tspan x="584" dy="21.4">+</tspan><tspan x="595">setElementData()</tspan><tspan x="595" dy="21.4">and 47 more...</tspan><tspan x="584" dy="21.4">+</tspan><tspan x="595">valideXml()</tspan><tspan x="584" dy="21.4">+</tspan><tspan x="595">updateConductorTexts()</tspan><tspan x="584" dy="21.4">#</tspan><tspan x="595">drawAxes()</tspan><tspan x="584" dy="21.4">#</tspan><tspan x="595">setSize()</tspan><tspan x="584" dy="21.4">#</tspan><tspan x="595">mouseMoveEvent()</tspan><tspan x="584" dy="21.4">#</tspan><tspan x="595">mouseReleaseEvent()</tspan><tspan x="584" dy="21.4">#</tspan><tspan x="595">hoverEnterEvent()</tspan><tspan x="584" dy="21.4">#</tspan><tspan x="595">hoverLeaveEvent()</tspan><tspan x="584" dy="21.4">#</tspan><tspan x="595">drawPlcTable()</tspan><tspan x="584" dy="21.4">-</tspan><tspan x="595">Element()</tspan><tspan x="584" dy="21.4">-</tspan><tspan x="595">drawHighlight()</tspan><tspan x="584" dy="21.4">-</tspan><tspan x="595">buildFromXml()</tspan><tspan x="584" dy="21.4">-</tspan><tspan x="595">parseElement()</tspan><tspan x="584" dy="21.4">-</tspan><tspan x="595">parseInput()</tspan><tspan x="584" dy="21.4">-</tspan><tspan x="595">parseDynamicText()</tspan><tspan x="584" dy="21.4">-</tspan><tspan x="595">parseTerminal()</tspan></text>
</g>

<g id="DiagramTextItem">
<rect class="b" x="5" y="4200" width="205" height="877.4"/>
<path class="s" d="M5,4221.4 h205 M5,4542.4 h205"/>
<text class="h" x="107.5" y="4215.5">DiagramTextItem</text>
<text y="4215.5"><tspan x="13" dy="21.4">+</tspan><tspan x="24">m_block_alignment</tspan><tspan x="13" dy="21.4">+</tspan><tspan x="24">color</tspan><tspan x="13" dy="21.4">+</tspan><tspan x="24">alignment</tspan><tspan x="13" dy="21.4">+</tspan><tspan x="24">plainText</tspan><tspan x="13" dy="21.4">+</tspan><tspan x="24">font</tspan><tspan x="13" dy="21.4">#</tspan><tspan x="24">m_mouse_hover</tspan><tspan x="13" dy="21.4">#</tspan><tspan x="24">m_first_move</tspan><tspan x="13" dy="21.4">#</tspan><tspan x="24">m_no_editable</tspan><tspan x="13" dy="21.4">#</tspan><tspan x="24">m_is_html</tspan><tspan x="13" dy="21.4">#</tspan><tspan x="24">m_non_left_alignment</tspan><tspan x="13" dy="21.4">#</tspan><tspan x="24">m_previous_html_text</tspan><tspan x="13" dy="21.4">#</tspan><tspan x="24">m_previous_text</tspan><tspan x="13" dy="21.4">#</tspan><tspan x="24">m_mouse_to_origin_movement</tspan><tspan x="13" dy="21.4">-</tspan><tspan x="24">m_alignment_rect</tspan><tspan x="13" dy="21.4">-</tspan><tspan x="24">m_alignment</tspan><tspan x="13" dy="21.4">+</tspan><tspan x="24">DiagramTextItem()</tspan><tspan x="13" dy="21.4">+</tspan><tspan x="24">DiagramTextItem()</tspan><tspan x="13" dy="21.4">+</tspan><tspan x="24">type()</tspan><tspan x="13" dy="21.4">+</tspan><tspan x="24">diagram()</tspan><tspan x="13" dy="21.4">+</tspan><tspan x="24">fromXml()</tspan><tspan x="13" dy="21.4">+</tspan><tspan x="24">toXml()</tspan><tspan x="13" dy="21.4">+</tspan><tspan x="24">edit()</tspan><tspan x="13" dy="21.4">+</tspan><tspan x="24">mapMovementToScene()</tspan><tspan x="13" dy="21.4">+</tspan><tspan x="24">mapMovementFromScene()</tspan><tspan x="13" dy="21.4">+</tspan><tspan x="24">mapMovementToParent()</tspan><tspan x="24" dy="21.4">and 11 more...</tspan><tspan x="13" dy="21.4">#</tspan><tspan x="24">paint()</tspan><tspan x="13" dy="21.4">#</tspan><tspan x="24">focusInEvent()</tspan><tspan x="13" dy="21.4">#</tspan><tspan x="24">focusOutEvent()</tspan><tspan x="13" dy="21.4">#</tspan><tspan x="24">mouseDoubleClickEvent()</tspan><tspan x="13" dy="21.4">#</tspan><tspan x="24">mousePressEvent()</tspan><tspan x="13" dy="21.4">#</tspan><tspan x="24">mouseMoveEvent()</tspan><tspan x="13" dy="21.4">#</tspan><tspan x="24">mouseReleaseEvent()</tspan><tspan x="13" dy="21.4">#</tspan><tspan x="24">hoverEnterEvent()</tspan><tspan x="13" dy="21.4">#</tspan><tspan x="24">hoverLeaveEvent()</tspan><tspan x="13" dy="21.4">#</tspan><tspan x="24">hoverMoveEvent()</tspan><tspan x="13" dy="21.4">#</tspan><tspan x="24">applyRotation()</tspan><tspan x="13" dy="21.4">#</tspan><tspan x="24">prepareAlignment()</tspan><tspan x="13" dy="21.4">#</tspan><tspan x="24">finishAlignment()</tspan><tspan x="13" dy="21.4">-</tspan><tspan x="24">build()</tspan></text>
</g>

<g id="ConductorTextItem">
<rect class="g" x="31" y="5345" width="153" height="492.2"/>
<path class="s" d="M31,5366.4 h153 M31,5430.6 h153"/>
<text class="h" x="107.5" y="5360.5">ConductorTextItem</text>
<text y="5360.5"><tspan x="39" dy="21.4">-</tspan><tspan x="50">moved_by_user_</tspan><tspan x="39" dy="21.4">-</tspan><tspan x="50">rotate_by_user_</tspan><tspan x="39" dy="21.4">-</tspan><tspan x="50">before_mov_pos_</tspan><tspan x="39" dy="21.4">+</tspan><tspan x="50">ConductorTextItem()</tspan><tspan x="39" dy="21.4">+</tspan><tspan x="50">ConductorTextItem()</tspan><tspan x="39" dy="21.4">+</tspan><tspan x="50">~ConductorTextItem()</tspan><tspan x="39" dy="21.4">+</tspan><tspan x="50">parentConductor()</tspan><tspan x="39" dy="21.4">+</tspan><tspan x="50">fromXml()</tspan><tspan x="39" dy="21.4">+</tspan><tspan x="50">type()</tspan><tspan x="39" dy="21.4">+</tspan><tspan x="50">wasMovedByUser()</tspan><tspan x="39" dy="21.4">+</tspan><tspan x="50">wasRotatedByUser()</tspan><tspan x="39" dy="21.4">+</tspan><tspan x="50">forceMovedByUser()</tspan><tspan x="39" dy="21.4">+</tspan><tspan x="50">forceRotateByUser()</tspan><tspan x="39" dy="21.4">+</tspan><tspan x="50">setPos()</tspan><tspan x="39" dy="21.4">+</tspan><tspan x="50">setPos()</tspan><tspan x="39" dy="21.4">#</tspan><tspan x="50">mousePressEvent()</tspan><tspan x="39" dy="21.4">#</tspan><tspan x="50">mouseMoveEvent()</tspan><tspan x="39" dy="21.4">#</tspan><tspan x="50">mouseReleaseEvent()</tspan><tspan x="39" dy="21.4">#</tspan><tspan x="50">hoverEnterEvent()</tspan><tspan x="39" dy="21.4">#</tspan><tspan x="50">hoverLeaveEvent()</tspan><tspan x="39" dy="21.4">#</tspan><tspan x="50">hoverMoveEvent()</tspan><tspan x="39" dy="21.4">-</tspan><tspan x="50">ConductorTextItem()</tspan></text>
</g>

<g id="Terminal">
<rect class="b" x="360" y="5206" width="152" height="770.4"/>
<path class="s" d="M360,5227.4 h152 M360,5527 h152"/>
<text class="h" x="436" y="5221.5">Terminal</text>
<text y="5221.5"><tspan x="368" dy="21.4">+</tspan><tspan x="379">dock_elmt_</tspan><tspan x="368" dy="21.4">+</tspan><tspan x="379">terminalSize</tspan><tspan x="368" dy="21.4">+</tspan><tspan x="379">Z</tspan><tspan x="368" dy="21.4">+</tspan><tspan x="379">neutralColor</tspan><tspan x="368" dy="21.4">+</tspan><tspan x="379">allowedColor</tspan><tspan x="368" dy="21.4">+</tspan><tspan x="379">warningColor</tspan><tspan x="368" dy="21.4">+</tspan><tspan x="379">forbiddenColor</tspan><tspan x="368" dy="21.4">-</tspan><tspan x="379">m_draw_help_line</tspan><tspan x="368" dy="21.4">-</tspan><tspan x="379">m_help_line</tspan><tspan x="368" dy="21.4">-</tspan><tspan x="379">m_help_line_a</tspan><tspan x="368" dy="21.4">-</tspan><tspan x="379">m_conductors_list</tspan><tspan x="368" dy="21.4">-</tspan><tspan x="379">m_br</tspan><tspan x="368" dy="21.4">-</tspan><tspan x="379">m_hovered</tspan><tspan x="368" dy="21.4">-</tspan><tspan x="379">m_hovered_color</tspan><tspan x="368" dy="21.4">+</tspan><tspan x="379">Terminal()</tspan><tspan x="368" dy="21.4">+</tspan><tspan x="379">~Terminal()</tspan><tspan x="368" dy="21.4">+</tspan><tspan x="379">type()</tspan><tspan x="368" dy="21.4">+</tspan><tspan x="379">paint()</tspan><tspan x="368" dy="21.4">+</tspan><tspan x="379">drawHelpLine()</tspan><tspan x="368" dy="21.4">+</tspan><tspan x="379">HelpLine()</tspan><tspan x="368" dy="21.4">+</tspan><tspan x="379">boundingRect()</tspan><tspan x="368" dy="21.4">+</tspan><tspan x="379">alignedWithTerminal()</tspan><tspan x="368" dy="21.4">+</tspan><tspan x="379">addConductor()</tspan><tspan x="368" dy="21.4">+</tspan><tspan x="379">removeConductor()</tspan><tspan x="379" dy="21.4">and 20 more...</tspan><tspan x="368" dy="21.4">+</tspan><tspan x="379">valideXml()</tspan><tspan x="368" dy="21.4">#</tspan><tspan x="379">hoverEnterEvent()</tspan><tspan x="368" dy="21.4">#</tspan><tspan x="379">hoverMoveEvent()</tspan><tspan x="368" dy="21.4">#</tspan><tspan x="379">hoverLeaveEvent()</tspan><tspan x="368" dy="21.4">#</tspan><tspan x="379">mousePressEvent()</tspan><tspan x="368" dy="21.4">#</tspan><tspan x="379">mouseMoveEvent()</tspan><tspan x="368" dy="21.4">#</tspan><tspan x="379">mouseReleaseEvent()</tspan><tspan x="368" dy="21.4">-</tspan><tspan x="379">Terminal()</tspan><tspan x="368" dy="21.4">-</tspan><tspan x="379">init()</tspan><tspan x="368" dy="21.4">-</tspan><tspan x="379">init()</tspan></text>
</g>

<g id="Conductor">
<rect class="b" x="226" y="6072" width="200" height="1177"/>
<path class="s" d="M226,6093.4 h200 M226,6478.6 h200"/>
<text class="h" x="326" y="6087.5">Conductor</text>
<text y="6087.5"><tspan x="234" dy="21.4">+</tspan><tspan x="245">pos</tspan><tspan x="234" dy="21.4">+</tspan><tspan x="245">animPath</tspan><tspan x="234" dy="21.4">+</tspan><tspan x="245">properties</tspan><tspan x="234" dy="21.4">+</tspan><tspan x="245">sequenceNum</tspan><tspan x="234" dy="21.4">-</tspan><tspan x="245">m_handler_vector</tspan><tspan x="234" dy="21.4">-</tspan><tspan x="245">m_vector_index</tspan><tspan x="234" dy="21.4">-</tspan><tspan x="245">m_mouse_over</tspan><tspan x="234" dy="21.4">-</tspan><tspan x="245">m_moving_segment</tspan><tspan x="234" dy="21.4">-</tspan><tspan x="245">moved_point</tspan><tspan x="234" dy="21.4">-</tspan><tspan x="245">m_previous_z_value</tspan><tspan x="234" dy="21.4">-</tspan><tspan x="245">before_mov_text_pos_</tspan><tspan x="234" dy="21.4">-</tspan><tspan x="245">modified_path</tspan><tspan x="234" dy="21.4">-</tspan><tspan x="245">has_to_save_profile</tspan><tspan x="234" dy="21.4">-</tspan><tspan x="245">conductor_profiles</tspan><tspan x="245" dy="21.4">and 6 more...</tspan><tspan x="234" dy="21.4">-</tspan><tspan x="245">conductor_pen</tspan><tspan x="234" dy="21.4">-</tspan><tspan x="245">conductor_brush</tspan><tspan x="234" dy="21.4">-</tspan><tspan x="245">pen_and_brush_initialized</tspan><tspan x="234" dy="21.4">+</tspan><tspan x="245">Conductor()</tspan><tspan x="234" dy="21.4">+</tspan><tspan x="245">~Conductor()</tspan><tspan x="234" dy="21.4">+</tspan><tspan x="245">isValid()</tspan><tspan x="234" dy="21.4">+</tspan><tspan x="245">type()</tspan><tspan x="234" dy="21.4">+</tspan><tspan x="245">diagram()</tspan><tspan x="234" dy="21.4">+</tspan><tspan x="245">textItem()</tspan><tspan x="234" dy="21.4">+</tspan><tspan x="245">uuid()</tspan><tspan x="234" dy="21.4">+</tspan><tspan x="245">newUuid()</tspan><tspan x="234" dy="21.4">+</tspan><tspan x="245">updatePath()</tspan><tspan x="234" dy="21.4">+</tspan><tspan x="245">updatePathAnimate()</tspan><tspan x="245" dy="21.4">and 33 more...</tspan><tspan x="234" dy="21.4">+</tspan><tspan x="245">valideXml()</tspan><tspan x="234" dy="21.4">+</tspan><tspan x="245">displayedTextChanged()</tspan><tspan x="234" dy="21.4">#</tspan><tspan x="245">mouseDoubleClickEvent()</tspan><tspan x="234" dy="21.4">#</tspan><tspan x="245">mousePressEvent()</tspan><tspan x="234" dy="21.4">#</tspan><tspan x="245">mouseReleaseEvent()</tspan><tspan x="234" dy="21.4">#</tspan><tspan x="245">hoverEnterEvent()</tspan><tspan x="234" dy="21.4">#</tspan><tspan x="245">hoverLeaveEvent()</tspan><tspan x="234" dy="21.4">#</tspan><tspan x="245">itemChange()</tspan><tspan x="234" dy="21.4">#</tspan><tspan x="245">sceneEventFilter()</tspan><tspan x="234" dy="21.4">-</tspan><tspan x="245">Conductor()</tspan><tspan x="234" dy="21.4">-</tspan><tspan x="245">pathFromXml()</tspan><tspan x="234" dy="21.4">-</tspan><tspan x="245">setUpConnectionForFormula()</tspan><tspan x="234" dy="21.4">-</tspan><tspan x="245">adjustHandlerPos()</tspan><tspan x="234" dy="21.4">-</tspan><tspan x="245">handlerMousePressEvent()</tspan><tspan x="234" dy="21.4">-</tspan><tspan x="245">handlerMouseMoveEvent()</tspan><tspan x="234" dy="21.4">-</tspan><tspan x="245">handlerMouseReleaseEvent()</tspan><tspan x="234" dy="21.4">-</tspan><tspan x="245">addHandler()</tspan><tspan x="234" dy="21.4">-</tspan><tspan x="245">removeHandler()</tspan><tspan x="234" dy="21.4">-</tspan><tspan x="245">segmentsToPath()</tspan><tspan x="245" dy="21.4">and 10 more...</tspan><tspan x="234" dy="21.4">-</tspan><tspan x="245">getCoeff()</tspan><tspan x="234" dy="21.4">-</tspan><tspan x="245">getSign()</tspan><tspan x="234" dy="21.4">-</tspan><tspan x="245">extendTerminal()</tspan><tspan x="234" dy="21.4">-</tspan><tspan x="245">movementType()</tspan><tspan x="234" dy="21.4">-</tspan><tspan x="245">movePointIntoPolygon()</tspan></text>
</g>

<g id="ConductorSegment">
<rect class="b" x="2018" y="5429" width="156" height="321"/>
<path class="s" d="M2018,5450.4 h156 M2018,5493.2 h156"/>
<text class="h" x="2096" y="5444.5">ConductorSegment</text>
<text y="5444.5"><tspan x="2026" dy="21.4">-</tspan><tspan x="2037">point1</tspan><tspan x="2026" dy="21.4">-</tspan><tspan x="2037">point2</tspan><tspan x="2026" dy="21.4">+</tspan><tspan x="2037">ConductorSegment()</tspan><tspan x="2026" dy="21.4">+</tspan><tspan x="2037">~ConductorSegment()</tspan><tspan x="2026" dy="21.4">+</tspan><tspan x="2037">moveX()</tspan><tspan x="2026" dy="21.4">+</tspan><tspan x="2037">moveY()</tspan><tspan x="2026" dy="21.4">+</tspan><tspan x="2037">previousSegment()</tspan><tspan x="2026" dy="21.4">+</tspan><tspan x="2037">nextSegment()</tspan><tspan x="2026" dy="21.4">+</tspan><tspan x="2037">hasPreviousSegment()</tspan><tspan x="2026" dy="21.4">+</tspan><tspan x="2037">hasNextSegment()</tspan><tspan x="2026" dy="21.4">+</tspan><tspan x="2037">setPreviousSegment()</tspan><tspan x="2026" dy="21.4">+</tspan><tspan x="2037">setNextSegment()</tspan><tspan x="2037" dy="21.4">and 17 more...</tspan><tspan x="2026" dy="21.4">-</tspan><tspan x="2037">ConductorSegment()</tspan></text>
</g>
</svg>
